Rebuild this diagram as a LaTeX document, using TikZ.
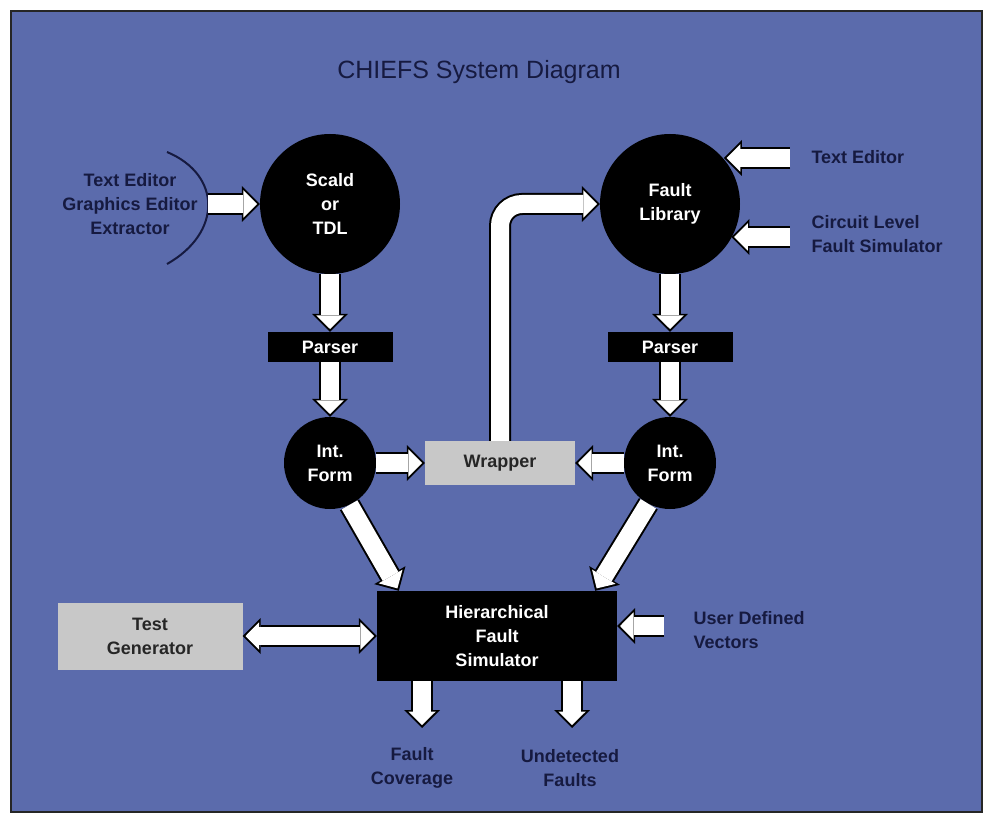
\documentclass[tikz,border=0pt]{standalone}
\usepackage{fontspec}
\setmainfont{Liberation Sans}
\usetikzlibrary{arrows.meta,calc}
\definecolor{bg}{RGB}{91,107,172}
\definecolor{ink}{RGB}{22,26,64}
\definecolor{boxgray}{RGB}{200,200,200}
\newcommand\fatarrow[1]{\draw[fatout] #1; \draw[fatin] #1;}
\newcommand\fatdouble[1]{\draw[fatoutD] #1; \draw[fatinD] #1;}
\begin{document}
\begin{tikzpicture}[x=1pt,y=-1pt,
  txt/.style={font=\bfseries\fontsize{18}{24}\selectfont, align=center},
  bigcirc/.style={txt, circle, fill=black, text=white, minimum size=140pt, inner sep=0pt},
  smallcirc/.style={txt, circle, fill=black, text=white, minimum size=92pt, inner sep=0pt},
  blackbox/.style={txt, rectangle, fill=black, text=white, inner sep=0pt},
  graybox/.style={txt, rectangle, fill=boxgray, text=black!85, inner sep=0pt},
  lbl/.style={txt, text=ink},
  fatout/.style={line width=22pt, draw=black, -{Triangle[width=36pt,length=18pt,line width=0pt]}},
  fatin/.style={line width=18pt, draw=white, shorten >=2.8pt, -{Triangle[width=27.5pt,length=13.7pt,line width=0pt]}},
  fatoutD/.style={line width=22pt, draw=black, {Triangle[width=36pt,length=18pt,line width=0pt]}-{Triangle[width=36pt,length=18pt,line width=0pt]}},
  fatinD/.style={line width=18pt, draw=white, shorten >=2.8pt, shorten <=2.8pt, {Triangle[width=27.5pt,length=13.7pt,line width=0pt]}-{Triangle[width=27.5pt,length=13.7pt,line width=0pt]}},
]
\useasboundingbox (0,0) rectangle (989,821);
\fill[white] (0,0) rectangle (989,821);
\draw[fill=bg, draw=black!85, line width=2pt] (11,11) rectangle (982,812);

% title
\node[font=\fontsize{25}{30}\selectfont, text=ink] (title) at (479,72) {CHIEFS System Diagram};

% nodes
\node[bigcirc] (sc) at (330,204) {Scald\\or\\TDL};
\node[bigcirc] (fl) at (670,204) {Fault\\Library};
\node[blackbox, minimum width=125pt, minimum height=30pt] (lp) at (330,347) {Parser};
\node[blackbox, minimum width=125pt, minimum height=30pt] (rp) at (670,347) {Parser};
\node[smallcirc] (lif) at (330,463) {Int.\\Form};
\node[smallcirc] (rif) at (670,463) {Int.\\Form};
\node[graybox, minimum width=150pt, minimum height=44pt] (wr) at (500,463) {Wrapper};
\node[blackbox, minimum width=240pt, minimum height=90pt] (hfs) at (497,636) {Hierarchical\\Fault\\Simulator};
\node[graybox, minimum width=185pt, minimum height=67pt] (tg) at (150,636) {Test\\Generator};

% labels
\node[lbl] (src) at (130,204) {Text Editor\\Graphics Editor\\Extractor};
\node[lbl, anchor=west] (te) at (808,157) {Text Editor};
\node[lbl, anchor=west, align=left] (cl) at (808,234) {Circuit Level\\Fault Simulator};
\node[lbl, anchor=west, align=left] (udv) at (690,630) {User Defined\\Vectors};
\node[lbl] (fc) at (412,768) {Fault\\Coverage};
\node[lbl] (uf) at (570,768) {Undetected\\Faults};

% bracket
\draw[ink, line width=2pt] (167,152) .. controls (222,175) and (222,233) .. (167,264);

% free arrow ends
\coordinate (brk) at (208,204);
\coordinate (teA) at (790,158);
\coordinate (clA) at (790,237);
\coordinate (udA) at (664,626);
\coordinate (fcA) at (422,728);
\coordinate (ufA) at (572,728);

% connectors
\fatarrow{(brk) -- (sc.west)}
\fatarrow{(teA) -- (teA -| fl.40)}
\fatarrow{(clA) -- (clA -| fl.-29)}
\fatarrow{(sc.south) -- (lp.north)}
\fatarrow{(lp.south) -- (lif.north)}
\fatarrow{(fl.south) -- (rp.north)}
\fatarrow{(rp.south) -- (rif.north)}
\fatarrow{(lif.east) -- (wr.west)}
\fatarrow{(rif.west) -- (wr.east)}
\fatarrow{[rounded corners=22pt] (wr.north) |- (fl.west)}
\fatarrow{(lif.-65) -- ([xshift=22pt]hfs.north west)}
\fatarrow{(rif.-118) -- ([xshift=-22pt]hfs.north east)}
\fatdouble{(tg.east) -- (hfs.west)}
\fatarrow{(udA) -- (udA -| hfs.east)}
\fatarrow{(fcA |- hfs.south) -- (fcA)}
\fatarrow{(ufA |- hfs.south) -- (ufA)}
\end{tikzpicture}
\end{document}
